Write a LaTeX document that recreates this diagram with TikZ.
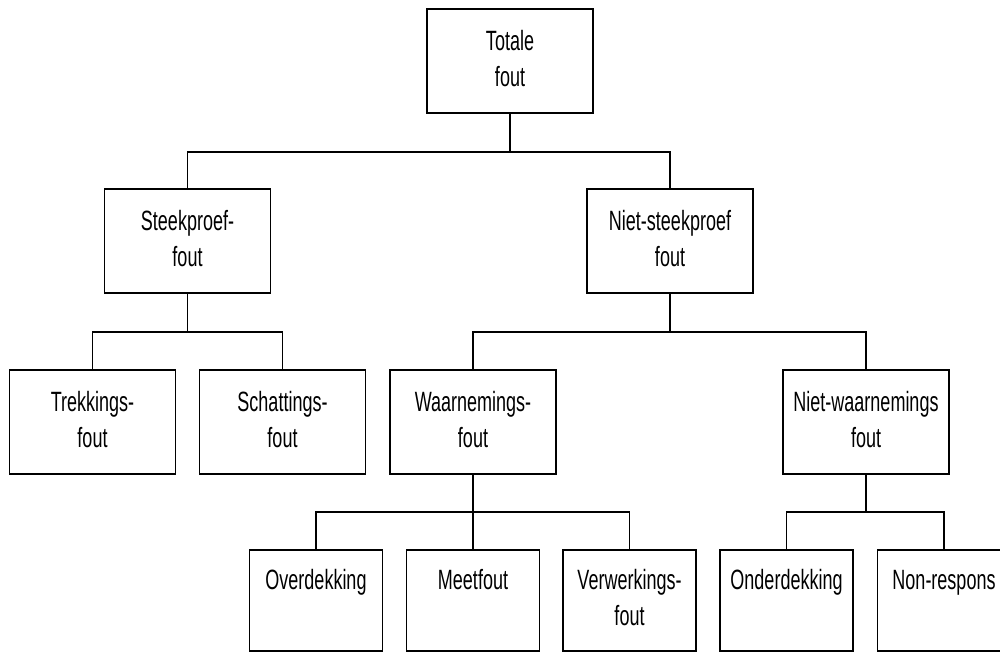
\documentclass[tikz,border=0pt]{standalone}
\usepackage{fontspec}
\setmainfont{Liberation Sans}
\newcommand{\twol}[2]{\scalebox{1}[1.55]{\begin{tabular}{@{}c@{}}#1\\\mbox{}#2\end{tabular}}}
\tikzset{
  box/.style={draw, line width=1.8pt, inner sep=0pt, minimum width=166pt, minimum height=104pt,
    font=\fontsize{18}{23.2}\selectfont},
  smallbox/.style={box, minimum width=133pt, minimum height=101pt},
  conn/.style={line width=1.3pt}
}
\begin{document}
\begin{tikzpicture}[x=1pt, y=-1pt]
\useasboundingbox (0,0) rectangle (1000,653);
% level 0
\node[box] (tot) at (510,61) {\twol{Totale}{fout}};
% level 1
\node[box] (st) at (187.5,241) {\twol{Steekproef-}{fout}};
\node[box] (nst) at (670,241) {\twol{Niet-steekproef}{fout}};
% level 2
\node[box] (tr) at (92.5,422) {\twol{Trekkings-}{fout}};
\node[box] (sch) at (282.5,422) {\twol{Schattings-}{fout}};
\node[box] (wa) at (473,422) {\twol{Waarnemings-}{fout}};
\node[box] (nwa) at (866,422) {\twol{Niet-waarnemings}{fout}};
% level 3
\node[smallbox] (ov) at (316,600.5) {\twol{Overdekking}{}};
\node[smallbox] (me) at (473,600.5) {\twol{Meetfout}{}};
\node[smallbox] (ve) at (629.5,600.5) {\twol{Verwerkings-}{fout}};
\node[smallbox] (on) at (786.5,600.5) {\twol{Onderdekking}{}};
\node[smallbox] (no) at (944,600.5) {\twol{Non-respons}{}};
% bracket levels
\coordinate (b1) at (0,152);
\coordinate (b2) at (0,332);
\coordinate (b3) at (0,512);
% connectors
\draw[conn] (tot.south) -- (tot.south |- b1);
\draw[conn] (st.north) |- (nst.north |- b1) -- (nst.north);
\draw[conn] (st.south) -- (st.south |- b2);
\draw[conn] (tr.north) |- (sch.north |- b2) -- (sch.north);
\draw[conn] (nst.south) -- (nst.south |- b2);
\draw[conn] (wa.north) |- (nwa.north |- b2) -- (nwa.north);
\draw[conn] (wa.south) -- (me.north);
\draw[conn] (ov.north) |- (ve.north |- b3) -- (ve.north);
\draw[conn] (nwa.south) -- (nwa.south |- b3);
\draw[conn] (on.north) |- (no.north |- b3) -- (no.north);
\end{tikzpicture}
\end{document}
